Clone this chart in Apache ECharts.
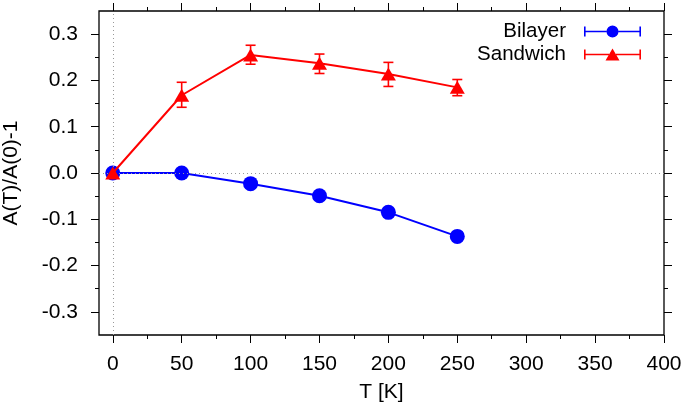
<!DOCTYPE html>
<html>
<head>
<meta charset="utf-8">
<script src="https://cdn.jsdelivr.net/npm/echarts@6/dist/echarts.min.js"></script>
<style>
  html, body { margin: 0; padding: 0; background: #fff; }
  #chart { width: 685px; height: 410px; }
</style>
</head>
<body>
<div id="chart"></div>
<script>
// data
const temps = [0, 50, 100, 150, 200, 250]
const bilayer = [0, 0, -0.023, -0.049, -0.085, -0.137]
const bilayerErr = [0.002, 0.003, 0.003, 0.003, 0.003, 0.004]
const sandwich = [0, 0.168, 0.255, 0.237, 0.214, 0.185]
const sandwichLow = [-0.004, 0.142, 0.235, 0.215, 0.187, 0.167]
const sandwichHigh = [0.004, 0.196, 0.276, 0.257, 0.239, 0.202]

const xMajor = [0, 50, 100, 150, 200, 250, 300, 350, 400]
const xMinor = [25, 75, 125, 175, 225, 275, 325, 375]
const yMajor = [-0.3, -0.2, -0.1, 0, 0.1, 0.2, 0.3]
const yMinor = [-0.25, -0.15, -0.05, 0.05, 0.15, 0.25]

const font = 'Liberation Sans, Arial, Helvetica, sans-serif'
const fs = 21
let myChart = echarts.init(document.getElementById('chart'))

// horizontal bar with end caps + marker, box 57 x 14
const circleIcon = 'path://M0 2H1.6V12H0Z M55.4 2H57V12H55.4Z M0 6.2H22.6V7.8H0Z M34.4 6.2H57V7.8H34.4Z M22.5 7A6 6 0 1 0 34.5 7A6 6 0 1 0 22.5 7Z'
const triIcon = 'path://M0 2H1.6V12H0Z M55.4 2H57V12H55.4Z M0 6.2H25V7.8H0Z M32 6.2H57V7.8H32Z M28.5 1L35.5 13H21.5Z'

function xAxisDef(pos, values, len, labels) {
  return {
    type: 'value', position: pos, min: -10, max: 400,
    axisLine: { show: false, onZero: false },
    splitLine: { show: false },
    axisTick: { show: true, inside: false, length: len, customValues: values,
      lineStyle: { color: '#000', width: 1 } },
    axisLabel: labels
      ? { show: true, customValues: xMajor, margin: 19, color: '#000', fontSize: fs, fontFamily: font }
      : { show: false }
  }
}
function yAxisDef(pos, values, len, labels) {
  return {
    type: 'value', position: pos, min: -0.35, max: 0.35,
    axisLine: { show: false, onZero: false },
    splitLine: { show: false },
    axisTick: { show: true, inside: false, length: len, customValues: values,
      lineStyle: { color: '#000', width: 1 } },
    axisLabel: labels
      ? { show: true, customValues: yMajor, margin: 21, color: '#000', fontSize: fs, fontFamily: font,
          formatter: v => v.toFixed(1) }
      : { show: false }
  }
}

function errorBars(low, high, color) {
  return {
    type: 'custom',
    silent: true,
    z: 3,
    data: temps.map((t, i) => [t, low[i], high[i]]),
    renderItem: function (params, api) {
      const top = api.coord([api.value(0), api.value(2)])
      const bot = api.coord([api.value(0), api.value(1)])
      const w = 5
      const style = { stroke: color, lineWidth: 1.6 }
      return {
        type: 'group',
        children: [
          { type: 'line', shape: { x1: top[0], y1: top[1], x2: bot[0], y2: bot[1] }, style },
          { type: 'line', shape: { x1: top[0] - w, y1: top[1], x2: top[0] + w, y2: top[1] }, style },
          { type: 'line', shape: { x1: bot[0] - w, y1: bot[1], x2: bot[0] + w, y2: bot[1] }, style }
        ]
      }
    }
  }
}

let option = {
  animation: false,
  grid: {
    left: 99, right: 21, top: 11, bottom: 75,
    outerBoundsMode: 'none',
    show: true, borderColor: '#000', borderWidth: 1.3
  },
  xAxis: [
    Object.assign(xAxisDef('bottom', xMajor, 8, true),
      { name: 'T [K]', nameLocation: 'middle', nameGap: 47,
        nameTextStyle: { color: '#000', fontSize: fs, fontFamily: font } }),
    xAxisDef('bottom', xMinor, 4, false),
    xAxisDef('top', xMajor, 8, false),
    xAxisDef('top', xMinor, 4, false)
  ],
  yAxis: [
    Object.assign(yAxisDef('left', yMajor, 8, true),
      { name: 'A(T)/A(0)-1', nameLocation: 'middle', nameGap: 77,
        nameTextStyle: { color: '#000', fontSize: fs, fontFamily: font } }),
    yAxisDef('left', yMinor, 4, false),
    yAxisDef('right', yMajor, 8, false),
    yAxisDef('right', yMinor, 4, false)
  ],
  legend: {
    orient: 'vertical',
    right: 44, top: 21, padding: 0,
    align: 'right',
    itemWidth: 57, itemHeight: 14, itemGap: 2,
    textStyle: { color: '#000', fontSize: 20.5, lineHeight: 18, fontFamily: font, padding: [0, 13, 0, 0] },
    data: [
      { name: 'Bilayer', icon: circleIcon, itemStyle: { color: '#0000ff' } },
      { name: 'Sandwich', icon: triIcon, itemStyle: { color: '#ff0000' } }
    ]
  },
  series: [
    {
      name: 'zero', type: 'line', data: [], silent: true,
      markLine: {
        silent: true, symbol: 'none', label: { show: false },
        lineStyle: { color: '#999', type: [1, 3], width: 1 },
        data: [{ xAxis: 0 }, { yAxis: 0 }]
      }
    },
    errorBars(temps.map((t, i) => bilayer[i] - bilayerErr[i]), temps.map((t, i) => bilayer[i] + bilayerErr[i]), '#0000ff'),
    {
      name: 'Bilayer', type: 'line', z: 4,
      data: temps.map((t, i) => [t, bilayer[i]]),
      symbol: 'circle', symbolSize: 15,
      lineStyle: { color: '#0000ff', width: 2 },
      itemStyle: { color: '#0000ff' }
    },
    errorBars(sandwichLow, sandwichHigh, '#ff0000'),
    {
      name: 'Sandwich', type: 'line', z: 5,
      data: temps.map((t, i) => [t, sandwich[i]]),
      symbol: 'triangle', symbolSize: [15, 13],
      lineStyle: { color: '#ff0000', width: 2 },
      itemStyle: { color: '#ff0000' }
    }
  ]
}
myChart.setOption(option)
window.addEventListener('resize', function () {
  myChart.resize()
})
</script>
</body>
</html>
